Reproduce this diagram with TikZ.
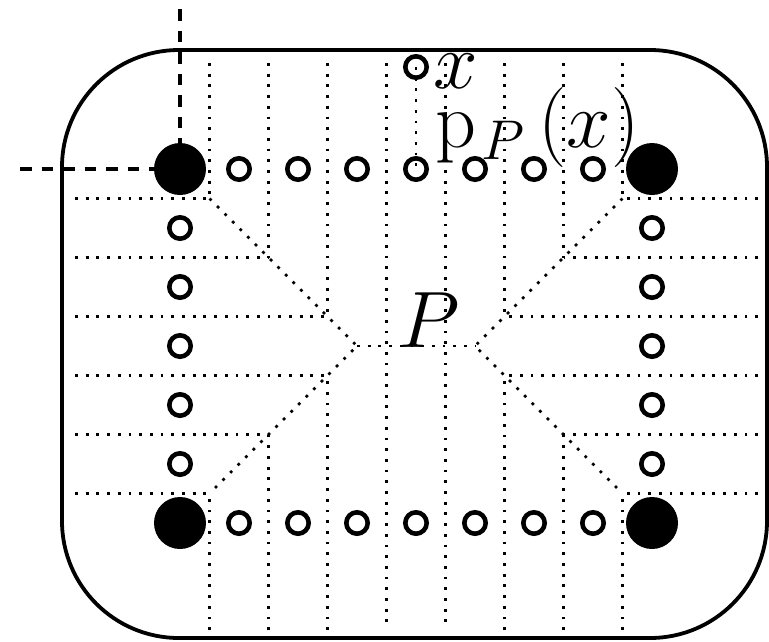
\RequirePackage{fix-cm}
\documentclass[tikz,border=0pt]{standalone}
\tikzset{
  filled/.style={circle, fill=black, inner sep=0pt, minimum size=52pt},
  open/.style={circle, draw=black, line width=4.6pt, inner sep=0pt, minimum size=21.4pt},
  cell/.style={line width=2.8pt, dash pattern=on 2.8pt off 7.9pt},
  guide/.style={line width=3.5pt, dash pattern=on 11.5pt off 10pt},
  border/.style={line width=3.8pt, rounded corners=117pt},
  lab/.style={inner sep=0pt, font=\fontsize{80}{96}\selectfont}
}
\begin{document}
\begin{tikzpicture}[x=1pt,y=-1pt]
\useasboundingbox (0,0) rectangle (769,641);
% outer rounded region
\draw[border] (62,50) rectangle (767,638);
% cell boundaries (vertical)
\foreach \x/\d in {209.5/198.5, 268.5/257.5, 327.5/316.5, 504.5/316.5, 563.5/257.5, 622.5/198.5}{
  \draw[cell] (\x,63) -- (\x,\d);
  \draw[cell] (\x,630) -- (\x,{692-\d});
}
\foreach \x in {386.5, 445.5}{
  \draw[cell] (\x,63) -- (\x,630);
}
% cell boundaries (horizontal)
\foreach \y/\d in {198.5/209.5, 257.5/268.5, 316.5/327.5, 375.5/327.5, 434.5/268.5, 493.5/209.5}{
  \draw[cell] (75,\y) -- (\d,\y);
  \draw[cell] (758,\y) -- ({832-\d},\y);
}
% medial axis
\coordinate (mL) at (357,346);
\coordinate (mR) at (475,346);
\draw[cell] (209.5,198.5) -- (mL) -- (209.5,493.5);
\draw[cell] (622.5,198.5) -- (mR) -- (622.5,493.5);
\draw[cell] (mL) -- (mR);
% corner points
\node[filled] (c1) at (180,169) {};
\node[filled] (c2) at (652,169) {};
\node[filled] (c3) at (180,523) {};
\node[filled] (c4) at (652,523) {};
% boundary points
\foreach \i in {1,...,7}{
  \node[open] (t\i) at ({180+59*\i},169) {};
  \node[open] (b\i) at ({180+59*\i},523) {};
}
\foreach \i in {1,...,5}{
  \node[open] (l\i) at (180,{169+59*\i}) {};
  \node[open] (r\i) at (652,{169+59*\i}) {};
}
% point x and its projection
\node[open] (xp) at (416,67) {};
\node[lab, anchor=base west] (xl) at (433,88) {$x$};
\draw[cell] (xp.center) -- (t4.center);
\node[lab, anchor=base west] (pl) at (435,147) {$\mathrm{p}_{\kern5pt P}\kern14pt(x)$};
\node[lab, anchor=base west] (Pl) at (398,347) {$P$};
% dashed guides
\coordinate (dtop) at (180,9);
\coordinate (dleft) at (20,169);
\draw[guide] (dtop) -- (c1);
\draw[guide] (dleft) -- (c1);
\end{tikzpicture}
\end{document}
